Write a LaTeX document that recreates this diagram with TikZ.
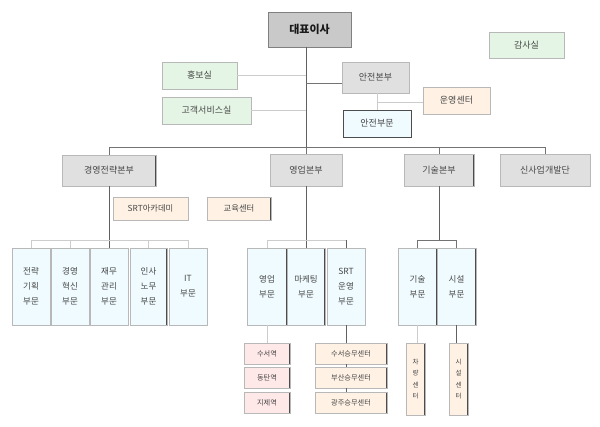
\documentclass[tikz,border=0pt]{standalone}
\usepackage{fontspec}
\setmainfont{Noto Sans CJK KR}
\tikzset{
  every node/.style={inner sep=0pt, align=center, text=black!72, font=\fontsize{9}{11}\selectfont},
  sz/.style 2 args={minimum width=#1pt, minimum height=#2pt},
  bx/.style={draw=black!28, line width=0.6pt},
  ceobox/.style={bx, draw=black!50, fill=black!21, font=\fontsize{11}{13}\selectfont\bfseries, text=black!90},
  hq/.style={bx, fill=black!12},
  grn/.style={bx, fill=green!60!black!10},
  pch/.style={bx, fill=orange!10},
  blu/.style={bx, fill=blue!25!cyan!6},
  pnk/.style={bx, fill=red!9},
  rdk/.style={path picture={\draw[black!70, line width=1.4pt] (path picture bounding box.north east) -- (path picture bounding box.south east);}},
  lrdk/.style={path picture={\draw[black!70, line width=1.4pt] (path picture bounding box.north west) -- (path picture bounding box.south west) (path picture bounding box.north east) -- (path picture bounding box.south east);}},
  tall/.style={font=\fontsize{8.5}{15}\selectfont},
  mid/.style={font=\fontsize{8.3}{10}\selectfont},
  small/.style={font=\fontsize{7.2}{9}\selectfont},
  vert/.style={font=\fontsize{6.5}{11.5}\selectfont},
  dk/.style={draw=black!62, line width=0.7pt},
  md/.style={draw=black!55, line width=0.6pt},
  lt/.style={draw=black!20, line width=0.7pt}
}
\begin{document}
\begin{tikzpicture}[x=1pt,y=-1pt]
\useasboundingbox (0,0) rectangle (600,427);
\fill[white] (0,0) rectangle (600,427);

% top level
\node[ceobox, sz={83}{35}] (ceo) at (309.5,29.5) {대표이사};
\node[grn, sz={75}{26}] (audit) at (526.5,45) {감사실};
\node[grn, sz={75}{27}] (pr) at (199.5,75.5) {홍보실};
\node[grn, sz={89}{27}] (cs) at (206.5,110.5) {고객서비스실};
\node[hq, sz={67}{31}] (safehq) at (375.5,77.5) {안전본부};
\node[pch, sz={67}{27}] (opc) at (456.5,100.5) {운영센터};
\node[blu, draw=black!70, sz={68}{27}] (safediv) at (377,123.5) {안전부문};

% level 2
\node[hq, rdk, sz={94}{31}] (mgmt) at (109,170.5) {경영전략본부};
\node[hq, sz={72}{32}] (sales) at (306,170) {영업본부};
\node[hq, rdk, sz={70}{32}] (tech) at (439,170) {기술본부};
\node[hq, sz={90}{32}] (newbiz) at (545,170) {신사업개발단};
\node[pch, mid, sz={75}{23}] (acad) at (150.5,208.5) {SRT아카데미};
\node[pch, mid, lrdk, sz={64}{23}] (edu) at (239,208.5) {교육센터};

% level 3
\node[blu, tall, sz={38}{77}] (d1) at (31,286.5) {전략\\기획\\부문};
\node[blu, tall, sz={38}{77}] (d2) at (70,286.5) {경영\\혁신\\부문};
\node[blu, tall, sz={38}{77}] (d3) at (109,286.5) {재무\\관리\\부문};
\node[blu, tall, lrdk, sz={37}{77}] (d4) at (148.5,286.5) {인사\\노무\\부문};
\node[blu, tall, sz={38}{77}] (d5) at (188,286.5) {IT\\부문};
\node[blu, tall, rdk, sz={40}{77}] (s1) at (267,286.5) {영업\\부문};
\node[blu, tall, rdk, sz={38}{77}] (s2) at (306,286.5) {마케팅\\부문};
\node[blu, tall, sz={38}{77}] (s3) at (346,286.5) {SRT\\운영\\부문};
\node[blu, tall, rdk, sz={39}{77}] (t1) at (417.5,286.5) {기술\\부문};
\node[blu, tall, rdk, sz={39}{77}] (t2) at (456.5,286.5) {시설\\부문};

% level 4
\node[pnk, small, rdk, sz={46}{21}] (st1) at (267,353.5) {수서역};
\node[pnk, small, rdk, sz={46}{21}] (st2) at (267,377.5) {동탄역};
\node[pnk, small, rdk, sz={46}{21}] (st3) at (267,402.5) {지제역};
\node[pch, small, rdk, sz={72}{21}] (c1) at (351,353.5) {수서승무센터};
\node[pch, small, rdk, sz={72}{21}] (c2) at (351,377.5) {부산승무센터};
\node[pch, small, rdk, sz={72}{21}] (c3) at (351,402.5) {광주승무센터};
\node[pch, vert, rdk, sz={19}{72}] (car) at (415.5,379) {차\\량\\센\\터};
\node[pch, vert, rdk, sz={19}{72}] (fac) at (458.5,379) {시\\설\\센\\터};

% junctions
\coordinate (j0) at (306,147);
\coordinate (js) at (306,83);
\coordinate (jo) at (377,102);
\coordinate (jm) at (109,240);
\coordinate (jt) at (439,240);

% connectors top
\draw[dk] (ceo.south -| j0) -- (j0);
\draw[lt] (pr.east) -- (pr.east -| j0);
\draw[lt] (cs.east) -- (cs.east -| j0);
\draw[md] (js) -- (js -| safehq.west);
\draw[lt] (safehq.south -| jo) -- (safediv.north -| jo);
\draw[lt] (jo) -- (jo -| opc.west);

% main bus
\draw[md] (mgmt.north |- j0) -- (newbiz.north |- j0);
\draw[md] (mgmt.north |- j0) -- (mgmt.north);
\draw[md] (j0) -- (sales.north);
\draw[md] (tech.north |- j0) -- (tech.north);
\draw[md] (newbiz.north |- j0) -- (newbiz.north);

% management sub
\draw[dk] (mgmt.south) -- (d3.north);
\draw[lt] (d1.north |- jm) -- (d5.north |- jm);
\foreach \d in {d1,d2,d4,d5} \draw[lt] (\d.north |- jm) -- (\d.north);

% sales sub
\draw[dk] (sales.south) -- (s2.north);
\draw[lt] (s1.north |- jm) -- (s3.north |- jm);
\draw[lt] (s1.north |- jm) -- (s1.north);
\draw[dk] (s3.north |- jm) -- (s3.north);

% tech sub
\draw[dk] (tech.south) -- (jt);
\draw[md] (t1.north |- jt) -- (t2.north |- jt);
\draw[md] (t1.north |- jt) -- (t1.north);
\draw[md] (t2.north |- jt) -- (t2.north);

% level 4 connectors
\draw[lt] (s1.south) -- (st1.north);
\draw[dk] (s3.south) -- (s3.south |- c1.north);
\draw[dk] (c1.south -| s3.south) -- (c2.north -| s3.south);
\draw[dk] (c2.south -| s3.south) -- (c3.north -| s3.south);
\draw[lt] (t1.south) -- (t1.south |- car.north);
\draw[dk] (t2.south) -- (t2.south |- fac.north);
\end{tikzpicture}
\end{document}
